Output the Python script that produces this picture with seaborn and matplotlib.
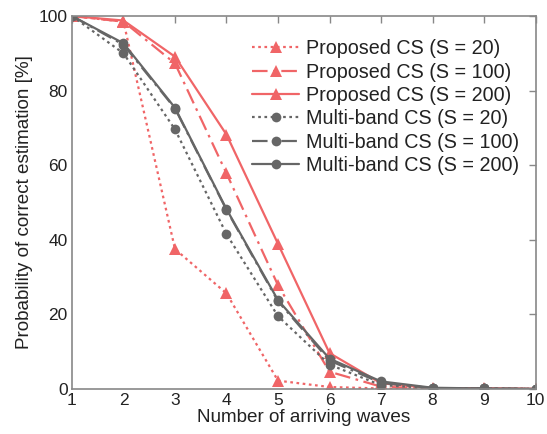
import matplotlib
matplotlib.use("Agg")
import matplotlib.pyplot as plt
import seaborn as sns
import pandas as pd

waves = [1, 2, 3, 4, 5, 6, 7, 8, 9, 10]
prop_s20 = [100, 98.5, 37.5, 25.6, 2.2, 0.5, 0.1, 0, 0, 0]
prop_s100 = [100, 98.5, 87.3, 57.8, 27.8, 4.6, 0.6, 0, 0, 0]
prop_s200 = [100, 98.8, 89.1, 68.2, 38.9, 9.6, 1.5, 0.2, 0.2, 0]
mb_s20 = [100, 90.0, 69.6, 41.5, 19.5, 6.5, 1.0, 0.2, 0.1, 0]
mb_s100 = [100, 92.3, 75.2, 48.0, 23.5, 7.6, 1.6, 0.2, 0.1, 0]
mb_s200 = [100, 92.7, 75.4, 48.2, 23.8, 8.1, 2.0, 0.3, 0.1, 0]

labels = ["Proposed CS (S = 20)", "Proposed CS (S = 100)", "Proposed CS (S = 200)",
          "Multi-band CS (S = 20)", "Multi-band CS (S = 100)", "Multi-band CS (S = 200)"]
series = [prop_s20, prop_s100, prop_s200, mb_s20, mb_s100, mb_s200]

sns.set_theme(style="white")
plt.rcParams['font.family'] = ['Liberation Sans', 'DejaVu Sans']

red = '#F06567'
gray = '#666666'
colors = [red, red, red, gray, gray, gray]
styles = [(0, (1.2, 1.6)), (0, (7, 2.5, 1.2, 2.5)), '-',
          (0, (1.2, 1.6)), (0, (7, 2.5, 1.2, 2.5)), '-']
markers = ['^', '^', '^', 'o', 'o', 'o']
msizes = [8.5, 8.5, 8.5, 7, 7, 7]

rows = []
for lab, vals in zip(labels, series):
    for w, v in zip(waves, vals):
        rows.append({"waves": w, "prob": v, "method": lab})
df = pd.DataFrame(rows)

fig = plt.figure(figsize=(5.47, 4.34), dpi=100)
ax = fig.add_axes([0.1316, 0.104, 0.8474, 0.859])

for i, lab in enumerate(labels):
    sub = df[df["method"] == lab]
    sns.lineplot(data=sub, x="waves", y="prob", ax=ax, color=colors[i],
                 linestyle=styles[i], marker=markers[i], markersize=msizes[i],
                 markeredgewidth=0, linewidth=1.6, label=lab)

ax.set_xlim(1, 10)
ax.set_ylim(0, 100)
ax.set_xticks(waves)
ax.set_yticks([0, 20, 40, 60, 80, 100])
ax.set_xlabel("Number of arriving waves", fontsize=13.6, color='#222222', labelpad=1)
ax.set_ylabel("Probability of correct estimation [%]", fontsize=13.6, color='#222222', labelpad=4)
ax.tick_params(direction='in', top=True, right=True, length=5, width=1,
               color='#888888', labelsize=12.5, labelcolor='#222222', pad=3)
for s in ax.spines.values():
    s.set_color('#888888')
    s.set_linewidth(1.2)

leg = ax.legend(loc='upper right', frameon=False, fontsize=14.2, handlelength=2.4,
                handletextpad=0.35, labelspacing=0.22, borderaxespad=0.3,
                bbox_to_anchor=(0.995, 0.975))
for t in leg.get_texts():
    t.set_color('#222222')

fig.savefig("out.png", dpi=100)
